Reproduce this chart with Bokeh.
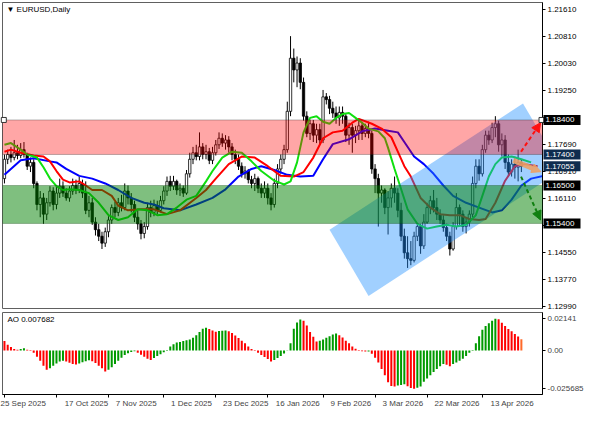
from bokeh.plotting import figure
from bokeh.models import (Range1d, FixedTicker, PrintfTickFormatter, Label, BoxAnnotation,
                          Arrow, NormalHead, ColumnDataSource)
from bokeh.layouts import column, row
from bokeh.embed import file_html
from bokeh.resources import INLINE
from bokeh.core.properties import value

FONT = "Liberation Sans"

# ---------------- data (EURUSD daily, one entry per bar) ----------------
opens = [1.1670, 1.1726, 1.1740, 1.1731, 1.1745, 1.1737, 1.1754, 1.1740, 1.1706, 1.1717,
         1.1656, 1.1595, 1.1614, 1.1567, 1.1600, 1.1634, 1.1595, 1.1628, 1.1648, 1.1628,
         1.1614, 1.1634, 1.1650, 1.1637, 1.1656, 1.1628, 1.1578, 1.1600, 1.1544, 1.1522,
         1.1503, 1.1483, 1.1516, 1.1550, 1.1586, 1.1572, 1.1600, 1.1586, 1.1634, 1.1614,
         1.1595, 1.1558, 1.1539, 1.1511, 1.1531, 1.1586, 1.1572, 1.1592, 1.1578, 1.1606,
         1.1634, 1.1662, 1.1648, 1.1662, 1.1637, 1.1642, 1.1628, 1.1684, 1.1726, 1.1745,
         1.1734, 1.1762, 1.1740, 1.1748, 1.1723, 1.1745, 1.1768, 1.1787, 1.1773, 1.1782,
         1.1762, 1.1740, 1.1726, 1.1706, 1.1684, 1.1692, 1.1667, 1.1656, 1.1670, 1.1642,
         1.1628, 1.1642, 1.1614, 1.1595, 1.1656, 1.1698, 1.1726, 1.1754, 1.1865, 1.2019,
         1.1985, 1.2005, 1.1949, 1.1851, 1.1801, 1.1829, 1.1796, 1.1812, 1.1782, 1.1907,
         1.1899, 1.1874, 1.1860, 1.1846, 1.1862, 1.1851, 1.1796, 1.1818, 1.1796, 1.1809,
         1.1823, 1.1801, 1.1815, 1.1801, 1.1698, 1.1670, 1.1628, 1.1637, 1.1586, 1.1614,
         1.1642, 1.1628, 1.1578, 1.1503, 1.1455, 1.1438, 1.1433, 1.1503, 1.1531, 1.1475,
         1.1544, 1.1586, 1.1606, 1.1586, 1.1567, 1.1550, 1.1528, 1.1503, 1.1466, 1.1531,
         1.1586, 1.1567, 1.1531, 1.1544, 1.1567, 1.1656, 1.1706, 1.1684, 1.1754, 1.1796,
         1.1782, 1.1818, 1.1829, 1.1768, 1.1782, 1.1717, 1.1689, 1.1712, 1.1703, 1.1717]

highs = [1.1740, 1.1754, 1.1762, 1.1782, 1.1768, 1.1773, 1.1776, 1.1745, 1.1731, 1.1726,
         1.1662, 1.1634, 1.1628, 1.1614, 1.1648, 1.1645, 1.1650, 1.1670, 1.1662, 1.1642,
         1.1648, 1.1670, 1.1667, 1.1676, 1.1667, 1.1662, 1.1620, 1.1614, 1.1558, 1.1539,
         1.1516, 1.1528, 1.1561, 1.1595, 1.1603, 1.1614, 1.1623, 1.1656, 1.1650, 1.1628,
         1.1606, 1.1578, 1.1550, 1.1544, 1.1600, 1.1606, 1.1609, 1.1606, 1.1620, 1.1648,
         1.1676, 1.1678, 1.1678, 1.1667, 1.1656, 1.1650, 1.1695, 1.1745, 1.1762, 1.1768,
         1.1804, 1.1773, 1.1768, 1.1759, 1.1762, 1.1782, 1.1804, 1.1801, 1.1796, 1.1793,
         1.1773, 1.1754, 1.1740, 1.1717, 1.1706, 1.1698, 1.1678, 1.1684, 1.1676, 1.1656,
         1.1662, 1.1656, 1.1628, 1.1670, 1.1712, 1.1740, 1.1768, 1.1893, 1.2083, 1.2047,
         1.2024, 1.2019, 1.1963, 1.1865, 1.1840, 1.1840, 1.1829, 1.1829, 1.1927, 1.1918,
         1.1910, 1.1893, 1.1879, 1.1879, 1.1879, 1.1857, 1.1832, 1.1829, 1.1823, 1.1838,
         1.1835, 1.1829, 1.1835, 1.1809, 1.1712, 1.1684, 1.1650, 1.1642, 1.1634, 1.1656,
         1.1676, 1.1642, 1.1600, 1.1525, 1.1503, 1.1489, 1.1516, 1.1539, 1.1539, 1.1567,
         1.1600, 1.1620, 1.1637, 1.1614, 1.1581, 1.1564, 1.1539, 1.1516, 1.1544, 1.1628,
         1.1595, 1.1578, 1.1558, 1.1578, 1.1676, 1.1726, 1.1726, 1.1768, 1.1809, 1.1809,
         1.1832, 1.1851, 1.1838, 1.1801, 1.1796, 1.1740, 1.1726, 1.1734, 1.1754, 1.1726]

lows = [1.1656, 1.1712, 1.1717, 1.1723, 1.1726, 1.1729, 1.1731, 1.1695, 1.1689, 1.1642,
        1.1578, 1.1558, 1.1539, 1.1550, 1.1589, 1.1578, 1.1581, 1.1614, 1.1617, 1.1606,
        1.1603, 1.1623, 1.1625, 1.1628, 1.1614, 1.1567, 1.1558, 1.1536, 1.1505, 1.1489,
        1.1466, 1.1472, 1.1500, 1.1539, 1.1558, 1.1561, 1.1575, 1.1578, 1.1595, 1.1572,
        1.1544, 1.1522, 1.1494, 1.1497, 1.1522, 1.1558, 1.1561, 1.1567, 1.1572, 1.1595,
        1.1620, 1.1634, 1.1637, 1.1623, 1.1620, 1.1617, 1.1623, 1.1673, 1.1712, 1.1723,
        1.1723, 1.1726, 1.1726, 1.1712, 1.1712, 1.1737, 1.1756, 1.1762, 1.1754, 1.1745,
        1.1723, 1.1712, 1.1695, 1.1673, 1.1670, 1.1656, 1.1642, 1.1634, 1.1628, 1.1614,
        1.1614, 1.1595, 1.1578, 1.1586, 1.1642, 1.1684, 1.1712, 1.1745, 1.1851, 1.1949,
        1.1935, 1.1929, 1.1838, 1.1790, 1.1782, 1.1776, 1.1773, 1.1768, 1.1773, 1.1885,
        1.1857, 1.1846, 1.1829, 1.1823, 1.1829, 1.1776, 1.1768, 1.1745, 1.1773, 1.1782,
        1.1782, 1.1790, 1.1787, 1.1684, 1.1628, 1.1531, 1.1600, 1.1567, 1.1508, 1.1586,
        1.1600, 1.1558, 1.1489, 1.1438, 1.1411, 1.1419, 1.1427, 1.1489, 1.1452, 1.1466,
        1.1539, 1.1567, 1.1572, 1.1550, 1.1539, 1.1516, 1.1489, 1.1447, 1.1461, 1.1522,
        1.1536, 1.1516, 1.1511, 1.1531, 1.1558, 1.1642, 1.1664, 1.1676, 1.1745, 1.1768,
        1.1773, 1.1790, 1.1748, 1.1734, 1.1698, 1.1678, 1.1676, 1.1670, 1.1662, 1.1689]

closes = [1.1726, 1.1740, 1.1731, 1.1745, 1.1737, 1.1754, 1.1740, 1.1706, 1.1717, 1.1656,
          1.1595, 1.1614, 1.1567, 1.1600, 1.1634, 1.1595, 1.1628, 1.1648, 1.1628, 1.1614,
          1.1634, 1.1650, 1.1637, 1.1656, 1.1628, 1.1578, 1.1600, 1.1544, 1.1522, 1.1503,
          1.1483, 1.1516, 1.1550, 1.1586, 1.1572, 1.1600, 1.1586, 1.1634, 1.1614, 1.1595,
          1.1558, 1.1539, 1.1511, 1.1531, 1.1586, 1.1572, 1.1592, 1.1578, 1.1606, 1.1634,
          1.1662, 1.1648, 1.1662, 1.1637, 1.1642, 1.1628, 1.1684, 1.1726, 1.1745, 1.1734,
          1.1762, 1.1740, 1.1748, 1.1723, 1.1745, 1.1768, 1.1787, 1.1773, 1.1782, 1.1762,
          1.1740, 1.1726, 1.1706, 1.1684, 1.1692, 1.1667, 1.1656, 1.1670, 1.1642, 1.1628,
          1.1642, 1.1614, 1.1595, 1.1656, 1.1698, 1.1726, 1.1754, 1.1865, 1.2019, 1.1985,
          1.2005, 1.1949, 1.1851, 1.1801, 1.1829, 1.1796, 1.1812, 1.1782, 1.1907, 1.1899,
          1.1874, 1.1860, 1.1846, 1.1862, 1.1851, 1.1796, 1.1818, 1.1796, 1.1809, 1.1823,
          1.1801, 1.1815, 1.1801, 1.1698, 1.1670, 1.1628, 1.1637, 1.1586, 1.1614, 1.1642,
          1.1628, 1.1578, 1.1503, 1.1455, 1.1438, 1.1433, 1.1503, 1.1531, 1.1475, 1.1544,
          1.1586, 1.1606, 1.1586, 1.1567, 1.1550, 1.1528, 1.1503, 1.1466, 1.1531, 1.1586,
          1.1567, 1.1531, 1.1544, 1.1567, 1.1656, 1.1706, 1.1684, 1.1754, 1.1796, 1.1782,
          1.1818, 1.1829, 1.1768, 1.1782, 1.1717, 1.1689, 1.1712, 1.1703, 1.1717, 1.17055]

# Awesome Oscillator
ao = [0.00649, 0.00389, 0.00238, 0.00108, 0.00065, 0.00108, 0.00151, 0.00065, -0.0002, -0.00151,
      -0.00411, -0.00692, -0.01017, -0.01298, -0.0119, -0.01017, -0.00865, -0.00735, -0.00692, -0.00735,
      -0.00822, -0.00908, -0.0093, -0.00865, -0.00779, -0.00714, -0.00649, -0.00714, -0.00844, -0.01017,
      -0.0119, -0.01406, -0.01298, -0.01125, -0.00908, -0.00692, -0.00476, -0.00303, -0.00173, -0.00087,
      -0.00043, -0.00151, -0.00281, -0.00411, -0.00541, -0.00627, -0.00497, -0.00368, -0.00238, -0.00108,
      0.00043, 0.00281, 0.00433, 0.00541, 0.00584, 0.00649, 0.00692, 0.00757, 0.00865, 0.01038,
      0.01255, 0.01471, 0.01536, 0.01449, 0.01363, 0.01276, 0.01319, 0.01341, 0.01363, 0.01298,
      0.0119, 0.01017, 0.00844, 0.00671, 0.00498, 0.00281, 0.00108, -0.00022, -0.00151, -0.00303,
      -0.00433, -0.00562, -0.00735, -0.00627, -0.00497, -0.00368, -0.00195, 0.00022, 0.00498, 0.01471,
      0.01903, 0.0210, 0.02012, 0.01687, 0.01255, 0.0093, 0.00606, 0.00671, 0.00757, 0.00865,
      0.00973, 0.01082, 0.01146, 0.01038, 0.00887, 0.00671, 0.00498, 0.00281, 0.0013, 0.00043,
      -0.00043, -0.00065, -0.0006, -0.00216, -0.00476, -0.008, -0.01233, -0.01666, -0.02141, -0.02379,
      -0.02423, -0.02358, -0.02314, -0.02271, -0.0240, -0.0252, -0.025685, -0.0250, -0.02423, -0.02098,
      -0.01882, -0.01666, -0.0145, -0.01233, -0.0106, -0.00908, -0.00952, -0.0106, -0.00908, -0.008,
      -0.00692, -0.00541, -0.00368, -0.0015, 0.00043, 0.00498, 0.00973, 0.01406, 0.01666, 0.01839,
      0.02012, 0.02141, 0.0212, 0.01882, 0.01666, 0.01449, 0.01298, 0.01125, 0.00952, 0.007682]

# Alligator lines (bar index, price)
jaw_x = [0, 5, 9, 14, 16, 19, 23, 27, 31, 35, 39, 43, 46, 49, 54, 59, 64, 68, 72, 76, 79, 83, 87,
         91, 95, 98, 101, 106, 110, 114, 118, 121, 123, 126, 129, 132, 135, 138, 142, 146, 150,
         153, 156, 159, 162, 166]
jaw_y = [1.1681, 1.1723, 1.1729, 1.1720, 1.1717, 1.1698, 1.1678, 1.1670, 1.1656, 1.1637, 1.1614,
         1.1600, 1.1595, 1.1584, 1.1578, 1.1595, 1.1614, 1.1639, 1.1676, 1.1698, 1.1706, 1.1695,
         1.1681, 1.1676, 1.1678, 1.1726, 1.1770, 1.1784, 1.1807, 1.1815, 1.1809, 1.1804, 1.1776,
         1.1734, 1.1712, 1.1684, 1.1650, 1.1620, 1.1600, 1.1586, 1.1572, 1.1578, 1.1609, 1.1650,
         1.1670, 1.1678]
teeth_x = [0, 2, 5, 9, 12, 14, 16, 18, 20, 23, 25, 27, 30, 33, 35, 38, 42, 46, 50, 54, 59, 62, 65,
           69, 73, 77, 81, 85, 89, 92, 95, 98, 101, 104, 107, 109, 113, 116, 119, 121, 123, 125,
           128, 131, 134, 137, 140, 143, 146, 148, 151, 154, 157, 160, 164]
teeth_y = [1.1748, 1.1754, 1.1745, 1.1737, 1.1734, 1.1720, 1.1692, 1.1667, 1.1659, 1.1662, 1.1650,
           1.1637, 1.1637, 1.1620, 1.1592, 1.1578, 1.1581, 1.1581, 1.1567, 1.1578, 1.1614, 1.1637,
           1.1670, 1.1712, 1.1734, 1.1731, 1.1706, 1.1678, 1.1676, 1.1689, 1.1731, 1.1787, 1.1804,
           1.1809, 1.1832, 1.1843, 1.1829, 1.1815, 1.1790, 1.1748, 1.1706, 1.1676, 1.1614, 1.1586,
           1.1567, 1.1564, 1.1564, 1.1553, 1.1550, 1.1553, 1.1600, 1.1664, 1.1706, 1.1712, 1.1706]
lips_x = [0, 2, 5, 7, 10, 12, 14, 16, 18, 20, 23, 26, 29, 32, 35, 38, 41, 44, 47, 50, 53, 56, 59,
          62, 64, 67, 70, 73, 76, 79, 83, 86, 88, 90, 92, 94, 96, 98, 100, 102, 104, 106, 108,
          110, 112, 115, 117, 118, 120, 122, 124, 127, 130, 133, 136, 139, 142, 145, 147, 149,
          151, 153, 156, 159, 162]
lips_y = [1.1768, 1.1773, 1.1754, 1.1740, 1.1731, 1.1703, 1.1670, 1.1648, 1.1637, 1.1639, 1.1637,
          1.1628, 1.1600, 1.1564, 1.1550, 1.1558, 1.1581, 1.1578, 1.1564, 1.1567, 1.1586, 1.1609,
          1.1620, 1.1662, 1.1692, 1.1731, 1.1748, 1.1745, 1.1720, 1.1692, 1.1664, 1.1653, 1.1662,
          1.1717, 1.1804, 1.1846, 1.1851, 1.1835, 1.1829, 1.1846, 1.1857, 1.1860, 1.1846, 1.1832,
          1.1815, 1.1807, 1.1787, 1.1759, 1.1698, 1.1640, 1.1581, 1.1539, 1.1525, 1.1531, 1.1536,
          1.1531, 1.1536, 1.1564, 1.1620, 1.1676, 1.1712, 1.1731, 1.1734, 1.1726, 1.1717]

# support / resistance zones and levels
zone_levels = [1.184, 1.174, 1.165, 1.154]
current_price = 1.17055

# rising channel corners (bar index, price)
channel_x = [100.0, 159.5, 171.5, 112.0]
channel_y = [1.1522, 1.1888, 1.1695, 1.1330]

# scenario arrows: (x_start, y_start, x_end, y_end)
arrow_up = (158.9, 1.1748, 164.9, 1.1832)
arrow_down = (158.9, 1.1676, 164.9, 1.1550)
arrow_now = (156.5, 1.1723, 165.0, 1.1690)

price_ticks = [1.2161, 1.2081, 1.2003, 1.1925, 1.1847, 1.1769, 1.1691, 1.1611, 1.1533, 1.1455,
               1.1377, 1.1299]
date_bars = [0, 16, 32, 49, 65, 81, 98, 114, 130, 147]
date_labels = ["25 Sep 2025", "17 Oct 2025", "7 Nov 2025", "1 Dec 2025", "23 Dec 2025",
               "16 Jan 2026", "9 Feb 2026", "3 Mar 2026", "22 Mar 2026", "13 Apr 2026"]
ao_ticks = [0.02141, 0.0, -0.025685]
ao_tick_labels = ["0.02141", "0.00", "-0.025685"]

# ---------------- main price panel ----------------
n = len(closes)
idx = list(range(n))
x_range = Range1d(-0.6, 165.5)
y_range = Range1d(1.12935, 1.21805)

p = figure(frame_width=540, frame_height=306, x_range=x_range, y_range=y_range,
           output_backend="svg", toolbar_location=None,
           x_axis_location=None, y_axis_location="right",
           min_border_left=2, min_border_top=2, min_border_bottom=4, min_border_right=40)
p.grid.visible = False
p.outline_line_color = "#606060"
p.outline_line_width = 1
p.background_fill_color = "white"
p.border_fill_color = "white"

src = ColumnDataSource(dict(
    x=idx, h=highs, l=lows,
    top=[max(o, c) for o, c in zip(opens, closes)],
    bottom=[min(o, c) for o, c in zip(opens, closes)],
    fill=["white" if c >= o else "black" for o, c in zip(opens, closes)],
))
p.segment(x0="x", y0="l", x1="x", y1="h", line_color="black", line_width=1, source=src)
p.vbar(x="x", width=0.72, top="top", bottom="bottom", fill_color="fill",
       line_color="black", line_width=0.8, source=src)

p.line(jaw_x, jaw_y, line_color="#0000FF", line_width=2)
p.line(teeth_x, teeth_y, line_color="#FF0000", line_width=2)
p.line(lips_x, lips_y, line_color="#10E010", line_width=2)

p.patch(channel_x, channel_y, fill_color="#1E90FF", fill_alpha=0.42, line_color=None)

p.add_layout(BoxAnnotation(bottom=zone_levels[1], top=zone_levels[0], fill_color="#FF0000",
                           fill_alpha=0.35, line_color="#202020", line_width=1))
p.add_layout(BoxAnnotation(bottom=zone_levels[3], top=zone_levels[2], fill_color="#008000",
                           fill_alpha=0.5, line_color="#0A3A0A", line_width=1))

p.scatter([-0.2, 165.2], [zone_levels[0], zone_levels[0]], marker="square", size=5,
          fill_color="white", line_color="#333333", level="overlay")

p.add_layout(Arrow(end=NormalHead(size=9, fill_color="#FF1010", line_color="#FF1010"),
                   x_start=arrow_up[0], y_start=arrow_up[1], x_end=arrow_up[2], y_end=arrow_up[3],
                   line_color="#FF1010", line_width=2, line_dash="4 3"))
p.add_layout(Arrow(end=NormalHead(size=9, fill_color="#108010", line_color="#108010"),
                   x_start=arrow_down[0], y_start=arrow_down[1], x_end=arrow_down[2],
                   y_end=arrow_down[3], line_color="#108010", line_width=2, line_dash="4 3"))
p.add_layout(Arrow(end=NormalHead(size=9, fill_color="#F0A060", line_color="#F0A060",
                                  fill_alpha=0.85, line_alpha=0.85),
                   x_start=arrow_now[0], y_start=arrow_now[1], x_end=arrow_now[2],
                   y_end=arrow_now[3], line_color="#F0A060", line_width=5, line_alpha=0.85))

ax = p.yaxis[0]
ax.ticker = FixedTicker(ticks=price_ticks)
ax.formatter = PrintfTickFormatter(format="%.5f")
ax.major_label_text_font = FONT
ax.major_label_text_font_size = "8px"
ax.major_label_text_color = "black"
ax.major_tick_out = 3
ax.major_tick_in = 0
ax.minor_tick_out = 0
ax.minor_tick_in = 0
ax.major_label_standoff = 2
ax.axis_line_color = "black"

p.add_layout(Label(x=0.6, y=1.2161, text="\u25bc EURUSD,Daily", text_font=FONT,
                   text_font_size="8px", text_color="black", text_baseline="middle"))

# price tags on the scale: a transparent strip laid over the right axis, sharing the y range
tag_levels = zone_levels + [current_price]
tag_texts = [f"{v:.5f}" for v in tag_levels]
tag_colors = ["black", "#0F2D4F", "black", "black", "#0F2D4F"]

tags = figure(frame_width=42, frame_height=306, x_range=Range1d(0, 42), y_range=y_range,
              output_backend="svg", toolbar_location=None,
              x_axis_location=None, y_axis_location=None,
              min_border_left=0, min_border_right=0, min_border_top=2, min_border_bottom=4,
              margin=(0, 0, 0, -42))
tags.grid.visible = False
tags.outline_line_color = None
tags.background_fill_alpha = 0
tags.border_fill_alpha = 0
tags.rect(x=21.5, y=tag_levels, width=37, height=10, height_units="screen",
          fill_color=tag_colors, line_color=None)
tags.text(x=5, y=tag_levels, text=tag_texts, text_font=value(FONT), text_font_size="8px",
          text_color="white", text_baseline="middle", text_align="left")

# ---------------- AO panel ----------------
p2 = figure(frame_width=540, frame_height=82, x_range=x_range,
            y_range=Range1d(-0.0296, 0.0257), output_backend="svg", toolbar_location=None,
            y_axis_location="right",
            min_border_left=2, min_border_top=0, min_border_right=40, min_border_bottom=0)
p2.grid.visible = False
p2.outline_line_color = "#606060"
p2.background_fill_color = "white"
p2.border_fill_color = "white"

ao_colors = []
for i, v in enumerate(ao):
    if i == len(ao) - 1:
        ao_colors.append("#FF6A2A")
    elif i > 0 and v > ao[i - 1]:
        ao_colors.append("#009A00")
    else:
        ao_colors.append("#FF0000")
p2.vbar(x=idx, width=0.62, top=ao, bottom=0, fill_color=ao_colors, line_color=None)

ay = p2.yaxis[0]
ay.ticker = FixedTicker(ticks=ao_ticks)
ay.major_label_overrides = {t: s for t, s in zip(ao_ticks, ao_tick_labels)}
ay.major_label_text_font = FONT
ay.major_label_text_font_size = "8px"
ay.major_tick_out = 3
ay.major_tick_in = 0
ay.minor_tick_out = 0
ay.minor_tick_in = 0
ay.major_label_standoff = 2
ay.axis_line_color = "black"

# date labels start at their tick (as in the terminal): pad on the left with no-break spaces
NBSP = "\u00a0"
date_overrides = {}
for k, (b, s) in enumerate(zip(date_bars, date_labels)):
    pad = 0 if k == 0 else round(len(s) * 1.87) + 6
    date_overrides[b] = NBSP * pad + s
axx = p2.xaxis[0]
axx.ticker = FixedTicker(ticks=date_bars)
axx.major_label_overrides = date_overrides
axx.major_label_text_font = FONT
axx.major_label_text_font_size = "8px"
axx.major_tick_out = 3
axx.major_tick_in = 0
axx.minor_tick_out = 0
axx.minor_tick_in = 0
axx.major_label_standoff = 1
axx.axis_line_color = "black"

p2.add_layout(Label(x=0.9, y=0.0209, text=f"AO {ao[-1]:.6f}", text_font=FONT,
                    text_font_size="8px", text_color="black", text_baseline="middle"))

layout = column(row(p, tags, spacing=0), p2, spacing=0)
open("out.html", "w").write(file_html(layout, INLINE))
